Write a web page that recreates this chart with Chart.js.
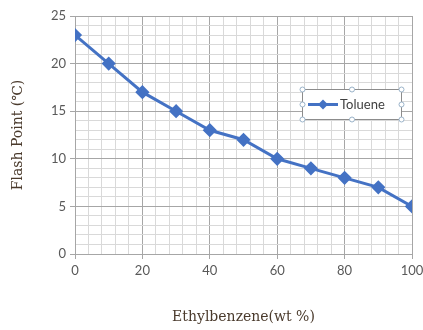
<!DOCTYPE html>
<html>
<head>
<meta charset="utf-8">
<script src="https://cdn.jsdelivr.net/npm/chart.js@4"></script>
<style>
  html, body { margin: 0; padding: 0; background: #ffffff; }
  #wrap { width: 423px; height: 330px; }
</style>
</head>
<body>
<div id="wrap"><canvas id="c" width="423" height="330"></canvas></div>
<script>
// Flash point of toluene / ethylbenzene blends
const ethylbenzeneWt = [0, 10, 20, 30, 40, 50, 60, 70, 80, 90, 100];
const flashPointToluene = [23, 20, 17, 15, 13, 12, 10, 9, 8, 7, 5];
const xTickLabels = [0, 20, 40, 60, 80, 100];
const yTickLabels = [0, 5, 10, 15, 20, 25];
const seriesName = 'Toluene';

const lineBlue = '#4472c4';
const majorGrid = '#a6a6a6';
const minorGrid = '#d9d9d9';

// Legend box drawn inside the plot area, with its selection handles
const insideLegend = {
  id: 'insideLegend',
  afterDraw(chart) {
    const ctx = chart.ctx;
    const x0 = 302, y0 = 89, w = 99, h = 30;
    ctx.save();
    ctx.fillStyle = '#ffffff';
    ctx.fillRect(x0, y0, w, h);
    ctx.strokeStyle = '#8c8c8c';
    ctx.lineWidth = 1;
    ctx.strokeRect(x0 + 0.5, y0 + 0.5, w, h);
    // line sample with marker
    const ly = y0 + h / 2 + 0.5;
    ctx.strokeStyle = lineBlue;
    ctx.lineWidth = 3;
    ctx.beginPath();
    ctx.moveTo(x0 + 6, ly);
    ctx.lineTo(x0 + 36, ly);
    ctx.stroke();
    ctx.fillStyle = lineBlue;
    ctx.beginPath();
    const mx = x0 + 21, r = 5;
    ctx.moveTo(mx, ly - r); ctx.lineTo(mx + r, ly); ctx.lineTo(mx, ly + r); ctx.lineTo(mx - r, ly);
    ctx.closePath();
    ctx.fill();
    ctx.fillStyle = '#404040';
    ctx.font = '13px Lato, "Open Sans", sans-serif';
    ctx.textBaseline = 'middle';
    ctx.fillText(seriesName, x0 + 38, ly);
    // handles
    const pts = [[x0, y0], [x0 + w / 2, y0], [x0 + w, y0], [x0, y0 + h / 2], [x0 + w, y0 + h / 2],
                 [x0, y0 + h], [x0 + w / 2, y0 + h], [x0 + w, y0 + h]];
    ctx.lineWidth = 1;
    ctx.strokeStyle = '#9ab3c9';
    ctx.fillStyle = '#ffffff';
    pts.forEach(p => {
      ctx.beginPath();
      ctx.arc(p[0] + 0.5, p[1] + 0.5, 2.5, 0, Math.PI * 2);
      ctx.fill();
      ctx.stroke();
    });
    ctx.restore();
  }
};

const data = {
  datasets: [{
    label: seriesName,
    data: ethylbenzeneWt.map((x, i) => ({ x: x, y: flashPointToluene[i] })),
    borderColor: lineBlue,
    backgroundColor: lineBlue,
    borderWidth: 3,
    pointStyle: 'rectRot',
    pointRadius: 5,
    pointHoverRadius: 5,
    tension: 0
  }]
};

const tickFont = { family: 'Lato, "Open Sans", sans-serif', size: 13 };
const titleFont = { family: '"DejaVu Serif", "Liberation Serif", serif', size: 14 };

new Chart(document.getElementById('c'), {
  type: 'line',
  data: data,
  options: {
    responsive: false,
    animation: false,
    layout: { padding: { top: 16, right: 11, left: 0, bottom: 0 } },
    plugins: { legend: { display: false }, tooltip: { enabled: false } },
    scales: {
      x: {
        type: 'linear',
        min: 0, max: 100,
        afterFit(s) { s.height = 76; s.paddingRight = 0; s.paddingLeft = 0; },
        ticks: {
          stepSize: 4,
          autoSkip: false,
          maxRotation: 0,
          color: '#595959',
          font: tickFont,
          padding: 4,
          callback: v => xTickLabels.includes(v) ? String(v) : ''
        },
        grid: {
          color: c => xTickLabels.includes(c.tick.value) ? majorGrid : minorGrid,
          tickColor: c => xTickLabels.includes(c.tick.value) ? majorGrid : 'rgba(0,0,0,0)',
          tickLength: 5,
          lineWidth: 1
        },
        border: { color: majorGrid },
        title: {
          display: true,
          text: 'Ethylbenzene(wt %)',
          color: '#4a3a2c',
          font: titleFont,
          padding: { top: 22 }
        }
      },
      y: {
        min: 0, max: 25,
        afterFit(s) { s.width = 75; s.paddingTop = 0; s.paddingBottom = 0; },
        ticks: {
          stepSize: 1,
          autoSkip: false,
          color: '#595959',
          font: tickFont,
          padding: 4,
          callback: v => yTickLabels.includes(v) ? String(v) : ''
        },
        grid: {
          color: c => yTickLabels.includes(c.tick.value) ? majorGrid : minorGrid,
          tickColor: c => yTickLabels.includes(c.tick.value) ? majorGrid : 'rgba(0,0,0,0)',
          tickLength: 5,
          lineWidth: 1
        },
        border: { color: majorGrid },
        title: {
          display: true,
          text: 'Flash Point (℃)',
          color: '#4a3a2c',
          font: titleFont,
          padding: { top: 10, bottom: 14 }
        }
      }
    }
  },
  plugins: [insideLegend]
});
</script>
</body>
</html>
